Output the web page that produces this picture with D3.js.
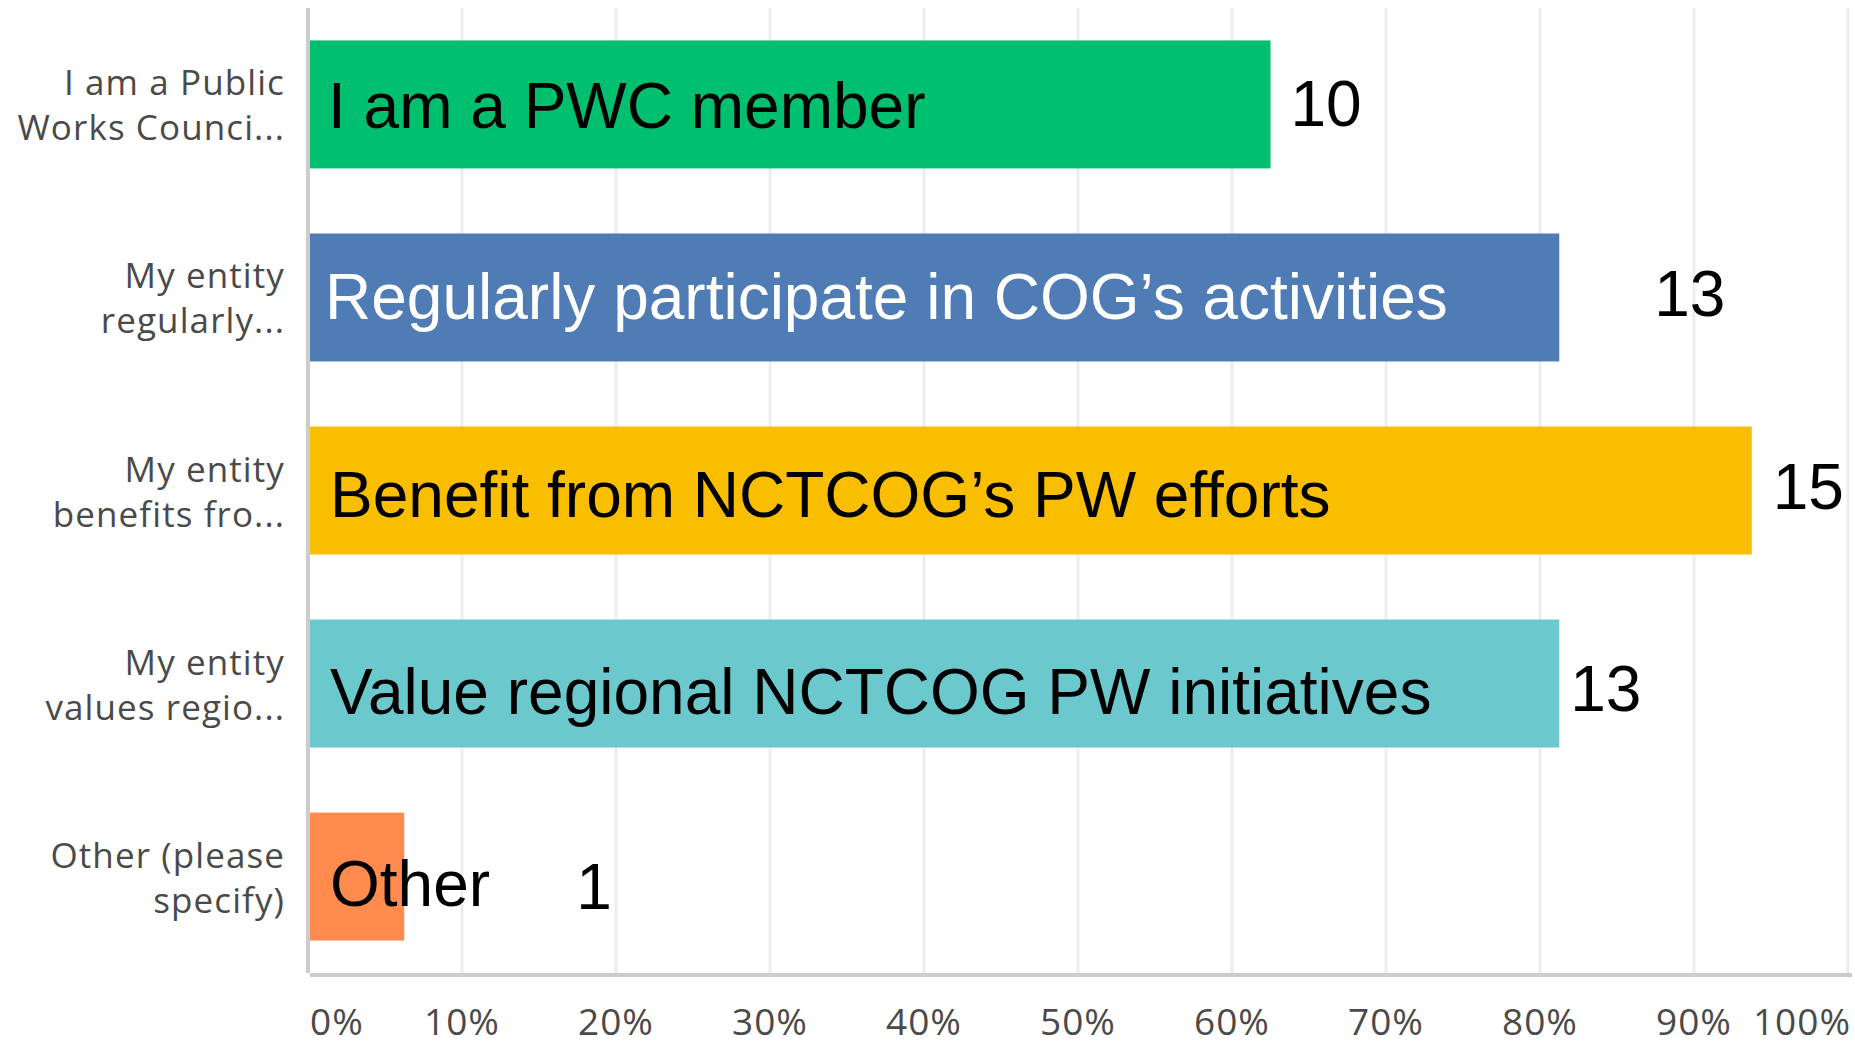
<!DOCTYPE html>
<html>
<head>
<meta charset="utf-8">
<script src="https://cdn.jsdelivr.net/npm/d3@7"></script>
<style>
  body { margin: 0; background: #fff; }
</style>
</head>
<body>
<div id="chart"></div>
<script>
// Answer choices, wrapped in two lines like the survey export
const categories = [
  ["I am a Public", "Works Counci..."],
  ["My entity", "regularly..."],
  ["My entity", "benefits fro..."],
  ["My entity", "values regio..."],
  ["Other (please", "specify)"]
];

// Text pasted on top of each bar
const barLabels = [
  "I am a PWC member",
  "Regularly participate in COG’s activities",
  "Benefit from NCTCOG’s PW efforts",
  "Value regional NCTCOG PW initiatives",
  "Other"
];

// Responses per choice, out of 16 respondents
const counts = [10, 13, 15, 13, 1];
const respondents = 16;

// x axis
const tickValues = [0, 0.1, 0.2, 0.3, 0.4, 0.5, 0.6, 0.7, 0.8, 0.9, 1];
const tickLabels = ["0%", "10%", "20%", "30%", "40%", "50%", "60%", "70%", "80%", "90%", "100%"];

// styling
const barColors = ["#00bf6f", "#507cb6", "#f9be00", "#6bc8cd", "#ff8b4f"];
const barTextColors = ["#000", "#fff", "#000", "#000", "#000"];
// the count labels were placed by hand on the slide: [dx after bar end, baseline below bar middle]
const countNudge = [[20, 22], [95, 19], [21, 18], [11, 27], [172, 32]];
const barTextDy = [24, 22, 26, 30, 29];
const barTextX = [328, 325, 330, 330, 330];

function renderChart(selector) {
  const width = 1855;
  const height = 1045;

  const svg = d3
    .select(selector)
    .append("svg")
    .attr("width", width)
    .attr("height", height)
    .attr("viewBox", [0, 0, width, height]);

  const rows = counts.map((c, i) => ({
    i,
    lines: categories[i],
    label: barLabels[i],
    count: c,
    share: c / respondents,
  }));

  // scales
  const x = d3.scaleLinear().domain([0, 1]).range([308, 1848]);
  const y = d3
    .scaleBand()
    .domain(d3.range(rows.length))
    .range([8, 973])
    .paddingInner(0.337)
    .paddingOuter(0.168);

  // vertical gridlines
  svg
    .append("g")
    .selectAll("line")
    .data(tickValues.slice(1))
    .join("line")
    .attr("x1", (d) => x(d))
    .attr("x2", (d) => x(d))
    .attr("y1", 8)
    .attr("y2", 973)
    .attr("stroke", "#ebebeb")
    .attr("stroke-width", 2.5);

  // axis lines
  svg.append("rect").attr("x", 306).attr("y", 8).attr("width", 4).attr("height", 965).attr("fill", "#cccccc");
  svg.append("rect").attr("x", 310).attr("y", 973).attr("width", 1542).attr("height", 4).attr("fill", "#cccccc");

  // bars
  svg
    .append("g")
    .selectAll("rect")
    .data(rows)
    .join("rect")
    .attr("x", 310)
    .attr("y", (d) => y(d.i))
    .attr("width", (d) => x(d.share) - 310)
    .attr("height", y.bandwidth())
    .attr("fill", (d) => barColors[d.i]);

  // big text over the bars
  svg
    .append("g")
    .selectAll("text")
    .data(rows)
    .join("text")
    .attr("x", (d) => barTextX[d.i])
    .attr("y", (d) => y(d.i) + y.bandwidth() / 2 + barTextDy[d.i])
    .attr("fill", (d) => barTextColors[d.i])
    .style("font", "64px 'Liberation Sans', Arial, sans-serif")
    .text((d) => d.label);

  // counts
  svg
    .append("g")
    .selectAll("text")
    .data(rows)
    .join("text")
    .attr("x", (d) => x(d.share) + countNudge[d.i][0])
    .attr("y", (d) => y(d.i) + y.bandwidth() / 2 + countNudge[d.i][1])
    .attr("fill", "#000")
    .style("font", "64px 'Liberation Sans', Arial, sans-serif")
    .text((d) => d.count);

  // category labels on the left
  const cat = svg
    .append("g")
    .selectAll("text")
    .data(rows)
    .join("text")
    .attr("text-anchor", "end")
    .attr("fill", "#4a4a4a")
    .style("font", "35px 'Open Sans', sans-serif")
    .style("letter-spacing", "1.1px");

  cat
    .selectAll("tspan")
    .data((d) => d.lines.map((t, k) => ({ t, k, row: d })))
    .join("tspan")
    .attr("x", 285)
    .attr("y", (d) => y(d.row.i) + y.bandwidth() / 2 - 9 + d.k * 45)
    .text((d) => d.t);

  // tick labels; first and last are kept inside the plot edges
  svg
    .append("g")
    .selectAll("text")
    .data(tickValues)
    .join("text")
    .attr("x", (d, i) => (i === 0 ? 310 : i === tickValues.length - 1 ? 1851 : x(d)))
    .attr("y", 1035)
    .attr("text-anchor", (d, i) => (i === 0 ? "start" : i === tickValues.length - 1 ? "end" : "middle"))
    .attr("fill", "#4a4a4a")
    .style("font", "37px 'Open Sans', sans-serif")
    .style("letter-spacing", "1px")
    .text((d, i) => tickLabels[i]);
}

renderChart("#chart");
</script>
</body>
</html>
